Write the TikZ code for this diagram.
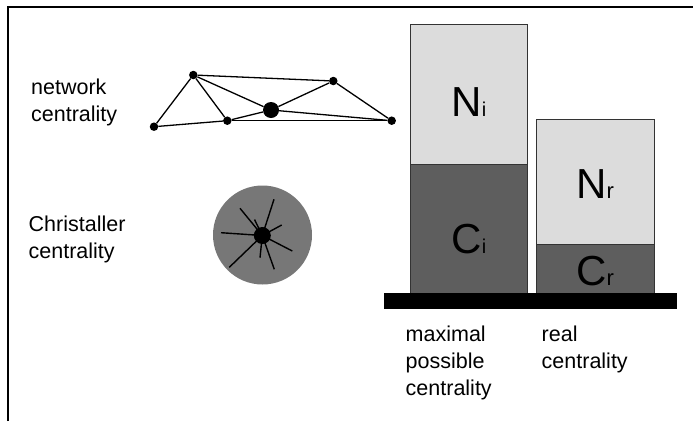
\documentclass[tikz,border=0pt]{standalone}
\usepackage{fontspec}
\setmainfont{Liberation Sans}
\definecolor{lightbar}{HTML}{DCDCDC}
\definecolor{darkbar}{HTML}{5E5E5E}
\definecolor{discgray}{HTML}{777777}
\definecolor{edgegray}{HTML}{333333}
\begin{document}
\begin{tikzpicture}[x=1pt,y=-1pt,
  dot/.style={circle,fill=black,inner sep=0pt,minimum size=8.5pt},
  bigdot/.style={circle,fill=black,inner sep=0pt,minimum size=16pt},
  netline/.style={line width=1.3pt},
  spoke/.style={line width=1.4pt},
  lbl/.style={font=\fontsize{21.5}{26.5}\selectfont,align=left,anchor=base west,inner sep=0pt},
  barlbl/.style={anchor=base,inner sep=0pt},
  barbox/.style={draw=edgegray,line width=0.8pt},
  frameline/.style={line width=2pt}]
\useasboundingbox (0,0) rectangle (693,421);
% frame
\coordinate (fl) at (8,421);
\coordinate (fc) at (8,7);
\coordinate (fr) at (693,7);
\draw[frameline] (fl) -- (fc) -- (fr);
% labels left (anchor = baseline of last line)
\node[lbl] (netlbl) at (31,121) {network\\centrality};
\node[lbl,font=\fontsize{21.5}{27}\selectfont] (chrlbl) at (28.5,258) {Christaller\\centrality};
% network
\node[dot] (A) at (193.3,75) {};
\node[dot] (B) at (333.3,81) {};
\node[bigdot] (C) at (271,110) {};
\node[dot] (D) at (227.3,120.7) {};
\node[dot] (E) at (154,126.7) {};
\node[dot] (F) at (391.7,120.7) {};
\draw[netline] (A) -- (B);
\draw[netline] (A) -- (E);
\draw[netline] (A) -- (D);
\draw[netline] (A) -- (C);
\draw[netline] (C) -- (B);
\draw[netline] (B) -- (F);
\draw[netline] (E) -- (D);
\draw[netline] (D) -- (C);
\draw[netline] (C) -- (F);
\draw[netline] (D) -- (F);
% Christaller disc
\node[circle,fill=discgray,inner sep=0pt,minimum size=99pt] (disc) at (262.5,235) {};
\coordinate (s1) at (274,199.3);
\coordinate (s2) at (240,208.3);
\coordinate (s3) at (254.5,219.5);
\coordinate (s4) at (281.7,225);
\coordinate (s5) at (221,232.7);
\coordinate (s6) at (292.3,251);
\coordinate (s7) at (229.3,267.3);
\coordinate (s8) at (260,257.7);
\coordinate (s9) at (274.3,269.3);
\coordinate (hub) at (262.3,235.5);
\foreach \s in {s1,s2,s3,s4,s5,s6,s7,s8,s9} \draw[spoke] (hub) -- (\s);
\node[circle,fill=black,inner sep=0pt,minimum size=17pt] (cdot) at (hub) {};
% bars
\draw[barbox,fill=lightbar] (410,24) rectangle (527.7,164.7);
\draw[barbox,fill=darkbar] (410,164.7) rectangle (527.7,293.3);
\draw[barbox,fill=lightbar] (536,119) rectangle (654,244);
\draw[barbox,fill=darkbar] (536,244) rectangle (654,293.3);
\fill[black] (384,293.3) rectangle (676.7,309.3);
\node[barlbl] (Ni) at (469,116.7) {\fontsize{42}{42}\selectfont N\fontsize{20}{20}\selectfont i};
\node[barlbl] (Ci) at (469,253.3) {\fontsize{42}{42}\selectfont C\fontsize{20}{20}\selectfont i};
\node[barlbl] (Nr) at (595,198.3) {\fontsize{42}{42}\selectfont N\fontsize{22}{22}\selectfont r};
\node[barlbl] (Cr) at (595,285) {\fontsize{42}{42}\selectfont C\fontsize{22}{22}\selectfont r};
% bottom labels (anchor = baseline of last line)
\node[lbl,font=\fontsize{21.5}{27}\selectfont] (maxlbl) at (405.5,395.7) {maximal\\possible\\centrality};
\node[lbl,font=\fontsize{21.5}{27}\selectfont] (reallbl) at (541.5,368.7) {real\\centrality};
\end{tikzpicture}
\end{document}
